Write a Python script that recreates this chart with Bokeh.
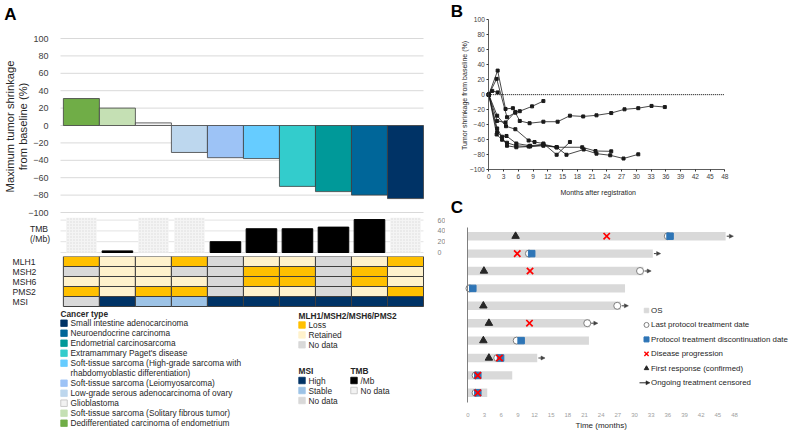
import textwrap
import math
from bokeh.plotting import figure
from bokeh.layouts import row, column
from bokeh.models import Range1d, FixedTicker, Arrow, NormalHead, ColumnDataSource
from bokeh.embed import file_html
from bokeh.resources import INLINE
from bokeh.core.properties import value

FONT = "Liberation Sans"
INK = "#262626"

# ---------------- Panel A data ----------------
patients = list(range(1, 11))
cancer_types = [
    "Dedifferentiated carcinoma of endometrium",
    "Soft-tissue sarcoma (Solitary fibrous tumor)",
    "Glioblastoma",
    "Low-grade serous adenocarcinoma of ovary",
    "Soft-tissue sarcoma (Leiomyosarcoma)",
    "Soft-tissue sarcoma (High-grade sarcoma with rhabdomyoblastic differentiation)",
    "Extramammary Paget's disease",
    "Endometrial carcinosarcoma",
    "Neuroendocrine carcinoma",
    "Small intestine adenocarcinoma",
]
cancer_colors = ["#70AD47", "#C5E0B4", "#F2F2F2", "#BDD7EE", "#9DC3F6",
                 "#66CCFF", "#33CCCC", "#009999", "#006699", "#003366"]
max_shrinkage = [31, 20, 3, -31, -37, -38, -70, -76, -80, -84]
tmb_per_mb = [None, 3, None, None, 20, 44, 44, 47, 61, None]
heat_rows = ["MLH1", "MSH2", "MSH6", "PMS2", "MSI"]
mlh1 = ["Loss", "Retained", "Retained", "Loss", "No data", "Retained", "Retained", "No data", "Retained", "Loss"]
msh2 = ["No data", "Retained", "Retained", "No data", "No data", "Loss", "Loss", "No data", "Loss", "Retained"]
msh6 = ["Retained", "Retained", "Retained", "Retained", "No data", "Loss", "Loss", "No data", "Loss", "Retained"]
pms2 = ["Loss", "Retained", "Loss", "Loss", "No data", "Retained", "Retained", "No data", "Retained", "Loss"]
msi_status = ["No data", "High", "Stable", "Stable", "High", "High", "High", "High", "High", "High"]
mmr_levels = ["Loss", "Retained", "No data"]
mmr_colors = {"Loss": "#FFC000", "Retained": "#FFF2CC", "No data": "#D9D9D9"}
msi_levels = ["High", "Stable", "No data"]
msi_colors = {"High": "#003366", "Stable": "#9DC3E6", "No data": "#D9D9D9"}
tmb_levels = ["/Mb", "No data"]
wave_ticks = list(range(-100, 101, 20))
tmb_ticks = [0, 20, 40, 60]

# ---------------- Panel B data ----------------
b_months = [
    [0, 1.6, 3.7, 5.4, 6.3, 8.3, 11.1, 14.0, 16.5, 19.2, 21.9, 24.9, 27.6, 30.4, 33.1, 35.8],
    [0, 1.8, 3.4, 4.9],
    [0, 0.7, 1.8],
    [0, 1.7, 3.4, 5.4, 6.3, 8.8, 11.1],
    [0, 1.7, 3.5, 5.4, 8.1, 9.3, 11.1, 13.8, 16.5],
    [0, 1.7, 2.7, 3.6, 5.6, 8.4, 11.1, 13.8, 15.8, 19.3, 21.9, 24.7, 27.4, 30.4],
    [0, 1.6, 2.7, 3.7, 5.6, 8.1, 11.1, 13.8, 19.0, 21.7, 24.9],
    [0, 1.7, 3.7, 5.6, 8.4, 11.1, 13.8],
]
b_values = [
    [0, 21, -30, -24, -35, -38, -36, -36, -28, -29, -27.5, -24.5, -19.5, -18, -15, -16.5],
    [0, 32, -19, -18],
    [0, 5, 3],
    [0, -35, -37, -23, -22, -15.6, -8.5],
    [0, -28, -42, -46, -61, -63, -65, -80, -63],
    [0, -50, -56, -55, -65, -68, -66, -70, -80, -73, -78.5, -80.7, -85, -79.4],
    [0, -53, -60, -64, -68, -69, -67, -70, -70, -75, -75.4],
    [0, -45, -68, -70, -69, -68, -70],
]
b_xticks = list(range(0, 49, 3))
b_yticks = list(range(-100, 101, 20))

# ---------------- Panel C data ----------------
c_rows = list(range(1, 11))
c_os = [46.4, 33.3, 31.6, 28.3, 27.5, 22.0, 21.8, 12.5, 8.0, 3.5]
c_ongoing = [1, 1, 1, 0, 1, 1, 0, 1, 0, 0]
c_first_response = [8.6, None, 2.9, None, 2.8, 3.8, 2.8, 3.8, None, None]
c_progression = [25.0, 8.9, 11.2, None, None, 11.1, None, 5.7, 1.8, 1.8]
c_last_treatment = [36.0, 11.0, 31.0, 0.3, 26.9, 21.5, 8.8, 5.3, 1.4, 1.4]
c_discontinuation = [36.4, 11.5, None, 0.9, None, None, 9.6, 5.9, 1.8, 1.8]
c_xticks = list(range(0, 49, 3))
c_legend_labels = ["OS", "Last protocol treatment date", "Protocol treatment discontinuation date",
                   "Disease progression", "First response (confirmed)", "Ongoing treatment censored"]


# ---------------- helpers ----------------
def lin(p1, v1, p2, v2):
    k = (v2 - v1) / (p2 - p1)
    return lambda p: v1 + (p - p1) * k


def minus(t):
    return str(t).replace("-", "\u2212")


def panel(left, top, w, h, xa, ya, **kw):
    fx, fy = lin(*xa), lin(*ya)
    p = figure(width=w, height=h, x_range=Range1d(fx(left), fx(left + w)),
               y_range=Range1d(fy(top + h), fy(top)), min_border=0,
               output_backend="svg", toolbar_location=None, **kw)
    p.outline_line_color = None
    p.background_fill_color = "white"
    p.border_fill_color = "white"
    p.grid.visible = False
    return p, fx, fy


def txt(p, fx, fy, xs, ys, texts, size, bold=False, align="left", angle=0.0, color=INK):
    p.text(x=[fx(x) for x in xs], y=[fy(y) for y in ys], text=texts, text_font=value(FONT),
           text_font_size=size, text_font_style="bold" if bold else "normal",
           text_align=align, text_baseline="middle", angle=angle, text_color=color)


def style_axis(ax, size, color="#404040", line=None, tick=None):
    ax.major_label_text_font = FONT
    ax.major_label_text_font_size = size
    ax.major_label_text_color = color
    ax.minor_tick_line_color = None
    ax.axis_line_color = line
    ax.major_tick_line_color = tick


LW = 445
RW = 344
XA = (60, 0.42, 423, 10.5)

# ---- waterfall ----
wave, wx, wy = panel(0, 0, LW, 217, XA, (38, 100, 212, -100), x_axis_location=None)
ax = wave.yaxis[0]
ax.ticker = FixedTicker(ticks=wave_ticks)
ax.fixed_location = 0.42
ax.bounds = (-100, 100)
ax.major_label_overrides = {t: minus(t) for t in wave_ticks}
ax.major_label_standoff = 6
style_axis(ax, "9px")
wave.segment(x0=0.42, x1=10.5, y0=wave_ticks, y1=wave_ticks, line_color="#D9D9D9", line_width=1)
wave.vbar(x=patients, top=max_shrinkage, bottom=0, width=1, fill_color=cancer_colors,
          line_color="#404040", line_width=0.8)
txt(wave, wx, wy, [10], [14], ["A"], "17px", bold=True, align="center", color="black")
txt(wave, wx, wy, [9, 22], [126, 126], ["Maximum tumor shrinkage", "from baseline (%)"],
    "11.2px", align="center", angle=math.pi / 2)

# ---- TMB ----
tmb, tx_, ty_ = panel(0, 217, LW, 39, XA, (252, 0, 219.6, 60),
                      x_axis_location=None, y_axis_location="right")
TMB_TOP = ty_(217)
tax = tmb.yaxis[0]
tax.ticker = FixedTicker(ticks=tmb_ticks)
tax.fixed_location = 10.5
tax.major_label_standoff = 8
style_axis(tax, "7px", "#7F7F7F")
tmb.segment(x0=0.42, x1=10.5, y0=tmb_ticks, y1=tmb_ticks, line_color="#E3E3E3", line_width=1)
nd = [p for p, v in zip(patients, tmb_per_mb) if v is None]
tmb.vbar(x=nd, top=TMB_TOP, bottom=0, width=0.85, fill_color="#F4F4F4", line_color=None,
         hatch_pattern="dot", hatch_color="#DCDCDC", hatch_scale=3)
mx = [p for p, v in zip(patients, tmb_per_mb) if v is not None]
mv = [v for v in tmb_per_mb if v is not None]
tmb.vbar(x=mx, top=mv, bottom=0, width=0.85, fill_color="black", line_color="black")
txt(tmb, tx_, ty_, [38.5, 39.5], [228.3, 238.3], ["TMB", "(/Mb)"], "8.6px", align="center")

# ---- heatmap ----
heat, hxf, hyf = panel(0, 256, LW, 51, XA, (261, 1, 301, 5),
                       x_axis_location=None, y_axis_location=None)
hx, hy, hc = [], [], []
for k, vals in enumerate([mlh1, msh2, msh6, pms2]):
    for p, v in zip(patients, vals):
        hx.append(p); hy.append(k + 1); hc.append(mmr_colors[v])
for p, v in zip(patients, msi_status):
    hx.append(p); hy.append(5); hc.append(msi_colors[v])
heat.rect(x=hx, y=hy, width=1, height=1, fill_color=hc, line_color="#3F3F3F", line_width=1)
heat.text(x=[hxf(12)] * len(heat_rows), y=list(range(1, len(heat_rows) + 1)), text=heat_rows,
          text_font=value(FONT), text_font_size="8.6px", text_baseline="middle", text_color=INK)

# ---- legend panel A (coordinates are page pixels) ----
leg, lx_, ly_ = panel(0, 307, LW, 125, (0, 0, 1, 1), (0, 0, 1, 1),
                      x_axis_location=None, y_axis_location=None)
sw_x, sw_y, sw_c, sw_l = [], [], [], []
tx, ty, tt, tw = [], [], [], []
tx.append(60); ty.append(313); tt.append("Cancer type"); tw.append("bold")
line = 0
for i in range(len(cancer_types) - 1, -1, -1):
    parts = textwrap.wrap(cancer_types[i], 45)
    yy = 322.7 + 10 * line
    sw_x.append(63.5); sw_y.append(yy); sw_c.append(cancer_colors[i])
    sw_l.append("#BFBFBF" if cancer_colors[i] == "#F2F2F2" else cancer_colors[i])
    for k, part in enumerate(parts):
        tx.append(70); ty.append(yy + 10 * k); tt.append(part); tw.append("normal")
    line += len(parts)
tx.append(298); ty.append(315); tt.append("MLH1/MSH2/MSH6/PMS2"); tw.append("bold")
for k, lv in enumerate(mmr_levels):
    yy = 324.5 + 9.9 * k
    sw_x.append(301.5); sw_y.append(yy); sw_c.append(mmr_colors[lv]); sw_l.append(mmr_colors[lv])
    tx.append(308); ty.append(yy); tt.append(lv); tw.append("normal")
tx.append(298); ty.append(370); tt.append("MSI"); tw.append("bold")
for k, lv in enumerate(msi_levels):
    yy = 380 + 10 * k
    sw_x.append(301.5); sw_y.append(yy); sw_c.append(msi_colors[lv]); sw_l.append(msi_colors[lv])
    tx.append(308); ty.append(yy); tt.append(lv); tw.append("normal")
tx.append(350); ty.append(370); tt.append("TMB"); tw.append("bold")
for k, (lv, fc, lc) in enumerate(zip(tmb_levels, ["black", "#F2F2F2"], ["black", "#BFBFBF"])):
    yy = 380 + 10 * k
    sw_x.append(353.5); sw_y.append(yy); sw_c.append(fc); sw_l.append(lc)
    tx.append(360); ty.append(yy); tt.append(lv); tw.append("normal")
leg.scatter(x=sw_x, y=sw_y, marker="square", size=6.5, fill_color=sw_c, line_color=sw_l, line_width=0.8)
leg.text(x=tx, y=ty, text=tt, text_font=value(FONT), text_font_size="8.3px",
         text_font_style=tw, text_baseline="middle", text_color=INK)

# ---------------- Panel B ----------------
pb, bxf, byf = panel(LW, 0, RW, 198, (488.3, 0, 724.3, 48), (19, 100, 169.3, -100))
bx = pb.xaxis[0]
bx.ticker = FixedTicker(ticks=b_xticks)
bx.fixed_location = -100
bx.bounds = (0, 48)
by = pb.yaxis[0]
by.ticker = FixedTicker(ticks=b_yticks)
by.fixed_location = 0
by.bounds = (-100, 100)
by.major_label_overrides = {t: minus(t) for t in b_yticks}
for a in (bx, by):
    style_axis(a, "6.6px", "#404040", line="#333333", tick="#333333")
    a.axis_line_width = 0.8
    a.major_tick_out = 2
    a.major_tick_in = 0
    a.major_label_standoff = 2
pb.line([0, 48], [0, 0], line_color="black", line_dash="1 1", line_width=1)
for ms, vs in zip(b_months, b_values):
    pb.line(ms, vs, line_color="#1A1A1A", line_width=0.8)
    pb.scatter(ms, vs, marker="square", size=3, color="#1A1A1A")
txt(pb, bxf, byf, [456.5], [11], ["B"], "17px", bold=True, align="center", color="black")
txt(pb, bxf, byf, [597.7], [192], ["Months after registration"], "7px", align="center")
txt(pb, bxf, byf, [464], [95], ["Tumor shrinkage from baseline (%)"], "7px", align="center",
    angle=math.pi / 2)

# ---------------- Panel C ----------------
pc, cxf, cyf = panel(LW, 198, RW, 234, (467.3, 0, 734, 48), (235.7, 1, 392.3, 10))
cy = pc.yaxis[0]
cy.ticker = FixedTicker(ticks=[])
cy.fixed_location = 0
cy.bounds = (cyf(226.7), cyf(401.7))
style_axis(cy, "6px", line="#7F7F7F")
cx = pc.xaxis[0]
cx.ticker = FixedTicker(ticks=c_xticks)
cx.fixed_location = cyf(401.7)
cx.bounds = (0, 48)
style_axis(cx, "6px", "#A0A0A0")
cx.major_label_standoff = 5

pc.hbar(y=c_rows, left=0, right=c_os, height=0.48, fill_color="#D9D9D9", line_color=None)


def pts(vals):
    xs, ys = [], []
    for r, v in zip(c_rows, vals):
        if v is not None:
            xs.append(v); ys.append(r)
    return xs, ys


lx, ly = pts(c_last_treatment)
pc.scatter(lx, ly, marker="circle", size=7, fill_color="white", line_color="#7F7F7F", line_width=1)
dx, dy = pts(c_discontinuation)
pc.scatter(dx, dy, marker="square", size=6.5, fill_color="#2E75B6", line_color="#2E75B6")
px_, py_ = pts(c_progression)
pc.scatter(px_, py_, marker="x", size=9, line_color="#FF0000", line_width=1.7)
fx_, fy_ = pts(c_first_response)
pc.scatter(fx_, fy_, marker="triangle", size=7.5, fill_color="#262626", line_color="#262626")
arr = ColumnDataSource(dict(
    xs=[o + 0.2 for o, g in zip(c_os, c_ongoing) if g],
    xe=[o + 1.4 for o, g in zip(c_os, c_ongoing) if g],
    y=[r for r, g in zip(c_rows, c_ongoing) if g]))
pc.add_layout(Arrow(end=NormalHead(size=4, fill_color="#404040", line_color="#404040", line_width=0.5),
                    x_start="xs", y_start="y", x_end="xe", y_end="y", source=arr,
                    line_color="#404040", line_width=1))

# legend C
leg_py = [310 + 14.46 * k for k in range(6)]
ly6 = [cyf(v) for v in leg_py]
mxl = cxf(646)
pc.scatter([mxl], [ly6[0]], marker="square", size=4.5, color="#D9D9D9")
pc.scatter([mxl], [ly6[1]], marker="circle", size=5, fill_color="white", line_color="#7F7F7F")
pc.scatter([mxl], [ly6[2]], marker="square", size=5, color="#2E75B6")
pc.scatter([mxl], [ly6[3]], marker="x", size=6, line_color="#FF0000", line_width=1.4)
pc.scatter([mxl], [ly6[4]], marker="triangle", size=4.5, color="#262626")
pc.add_layout(Arrow(end=NormalHead(size=4, fill_color="#262626", line_color="#262626", line_width=0.5),
                    x_start=cxf(639), y_start=ly6[5], x_end=cxf(649.5), y_end=ly6[5],
                    line_color="#262626", line_width=1))
txt(pc, cxf, cyf, [650.5] * 6, leg_py, c_legend_labels, "7.9px")
txt(pc, cxf, cyf, [456.5], [207], ["C"], "17px", bold=True, align="center", color="black")
txt(pc, cxf, cyf, [600.7], [425], ["Time (months)"], "8px", align="center")

layout = row(column(wave, tmb, heat, leg), column(pb, pc))
open("out.html", "w").write(file_html(layout, INLINE))
